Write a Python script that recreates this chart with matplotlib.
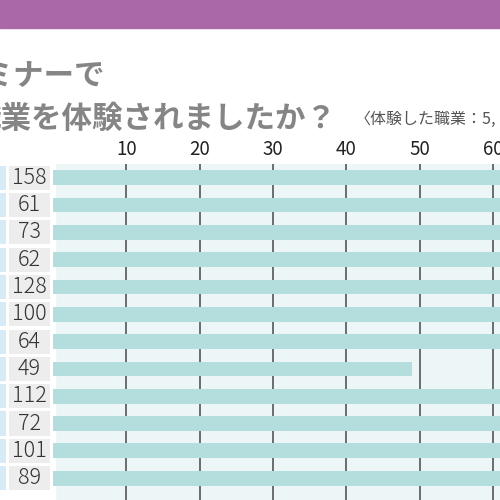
import matplotlib
matplotlib.use("Agg")
import matplotlib.pyplot as plt
from matplotlib.patches import Rectangle

plt.rcParams['font.family'] = ['Noto Sans CJK JP', 'DejaVu Sans']

# data (chart is a crop of a larger infographic)
counts = [158, 61, 73, 62, 128, 100, 64, 49, 112, 72, 101, 89]
ticks = [10, 20, 30, 40, 50, 60]
title1 = "セミナーで"
title2 = "職業を体験されましたか？"
note = "〈体験した職業：5,"

W = H = 500.0
def box(x0, y0, x1, y1):
    # pixel box (top-left origin) -> figure fraction
    return [x0 / W, 1 - y1 / H, (x1 - x0) / W, (y1 - y0) / H]

fig = plt.figure(figsize=(5, 5), dpi=100)
fig.patch.set_facecolor('white')

# purple band at the top
fig.patches.append(Rectangle((0, 1 - 28 / H), 1, 28 / H, transform=fig.transFigure,
                             color='#ab68a8', zorder=0))

fig.text(105 / W, 1 - 76 / H, title1, ha='right', va='center', fontsize=22,
         fontweight='bold', color='#858585')
fig.text(336 / W, 1 - 119 / H, title2, ha='right', va='center', fontsize=22,
         fontweight='bold', color='#858585')
fig.text(355 / W, 1 - 119 / H, note, ha='left', va='center', fontsize=11.5,
         color='#555555')

rows = list(range(len(counts)))
ylim = (11.8, -0.5)

# main bars
ax = fig.add_axes(box(53, 164, 500, 500))
ax.set_facecolor('#edf6f7')
ax.barh(rows, counts, height=0.54, color='#b3dedd', zorder=2)
ax.set_xlim(0, (500 - 53) / 7.33)
ax.set_ylim(*ylim)
ax.set_xticks(ticks)
ax.set_yticks([])
ax.xaxis.tick_top()
ax.tick_params(axis='x', length=0, pad=3, labelsize=13.5, labelcolor='#222222')
ax.grid(axis='x', color='#555555', linewidth=1.2)
ax.set_axisbelow(True)
for s in ax.spines.values():
    s.set_visible(False)
ax.axvspan(0, 0.27, color='white', zorder=1)

# count column
lab = fig.add_axes(box(9, 164, 50, 500))
lab.barh(rows, [1] * len(counts), height=0.88, color='#ededed')
for i, c in enumerate(counts):
    lab.text(0.5, i, str(c), ha='center', va='center', fontsize=15.5,
             fontweight='light', color='#333333')
lab.set_xlim(0, 1)
lab.set_ylim(*ylim)
lab.axis('off')

# strip of the cut-off column on the far left
strip = fig.add_axes(box(0, 164, 6, 500))
strip.barh(rows, [1] * len(counts), height=0.88, color='#d6ebf6')
strip.set_xlim(0, 1)
strip.set_ylim(*ylim)
strip.axis('off')

fig.savefig('out.png', dpi=100)
